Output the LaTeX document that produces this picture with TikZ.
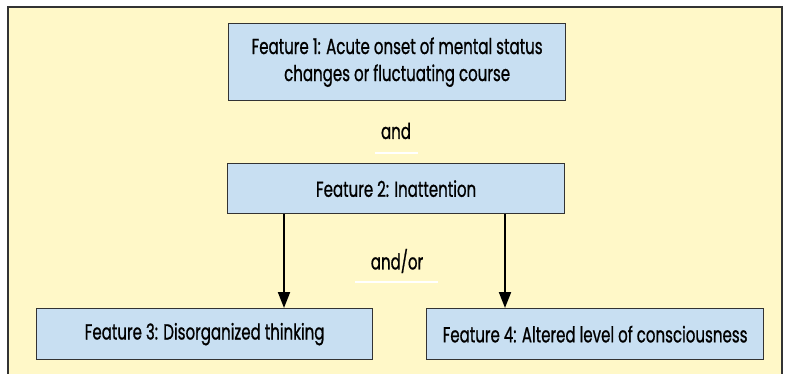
\documentclass[tikz,border=0pt]{standalone}
\usepackage{fontspec}
\setmainfont{Poppins}[FakeStretch=0.69,FakeBold=0.8]
\usetikzlibrary{arrows.meta}
\definecolor{framefill}{HTML}{FFF8C8}
\definecolor{boxfill}{HTML}{C8DFF2}
\definecolor{edge}{HTML}{333333}
\tikzset{
  featbox/.style={draw=edge, line width=1.3pt, fill=boxfill, anchor=north west, inner sep=0pt, align=center, font=\fontsize{21.8}{27}\selectfont},
  conn/.style={line width=2pt, -{Triangle[length=16pt,width=12pt]}},
  lbl/.style={font=\fontsize{21.8}{27}\selectfont},
  wline/.style={white, line width=1.5pt}
}
\begin{document}
\begin{tikzpicture}[x=1pt,y=-1pt]
\useasboundingbox (0,0) rectangle (786,374);
\fill[white] (0,0) rectangle (786,374);
\draw[edge, line width=1.3pt, fill=framefill] (8,7) rectangle (782,390);
\node[featbox, minimum width=337pt, minimum height=77pt] (f1) at (228,23) {Feature 1: Acute onset of mental status\\changes or fluctuating course};
\node[lbl] (and) at (396,131) {and};
\draw[wline] (375,153) -- (418,153);
\node[featbox, minimum width=337pt, minimum height=50pt] (f2) at (227,163) {Feature 2: Inattention};
\node[lbl] (andor) at (397,261) {and/or};
\draw[wline] (355,282) -- (438,282);
\node[featbox, minimum width=336pt, minimum height=51pt] (f3) at (36,308) {Feature 3: Disorganized thinking};
\node[featbox, minimum width=337pt, minimum height=51pt] (f4) at (426,308) {Feature 4: Altered level of consciousness};
\coordinate (a1) at (284,0);
\coordinate (a2) at (505,0);
\draw[conn] (f2.south -| a1) -- (f3.north -| a1);
\draw[conn] (f2.south -| a2) -- (f4.north -| a2);
\end{tikzpicture}
\end{document}
